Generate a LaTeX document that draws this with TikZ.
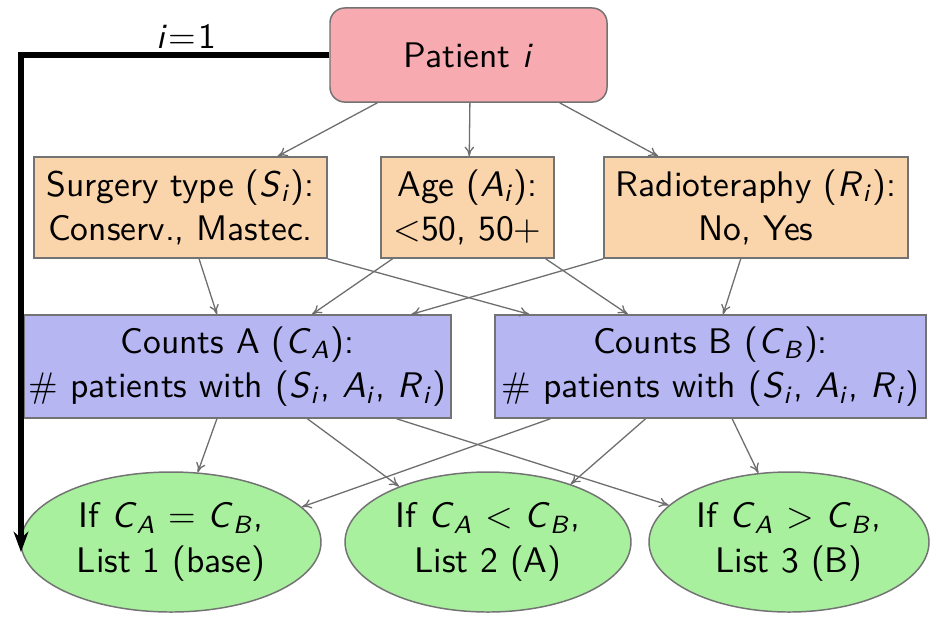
\documentclass[tikz,border=0pt]{standalone}
\usetikzlibrary{shapes.geometric,arrows.meta,calc}
\newcommand{\vv}[2]{\textsl{#1}\textsubscript{\textsl{#2}}}
\definecolor{pinkfill}{RGB}{247,170,175}
\definecolor{orangefill}{RGB}{250,212,170}
\definecolor{bluefill}{RGB}{182,182,243}
\definecolor{greenfill}{RGB}{168,240,158}
\definecolor{edgegray}{RGB}{110,110,110}
\begin{document}
\begin{tikzpicture}[x=0.27pt,y=-0.27pt,font=\sffamily\fontsize{9.6}{12}\selectfont,
  box/.style={draw=black!55,line width=0.4pt,inner sep=0pt,align=center,rectangle},
  patbox/.style={box,fill=pinkfill,rounded corners=4pt,minimum width=74.8pt,minimum height=25.4pt},
  attrbox/.style={box,fill=orangefill,minimum height=27.3pt},
  cntbox/.style={box,fill=bluefill,minimum height=27.8pt},
  listell/.style={draw=black!55,line width=0.4pt,fill=greenfill,ellipse,inner sep=0pt,align=center,minimum height=37.8pt},
  conn/.style={draw=edgegray,line width=0.35pt,-{To[length=2.6pt,width=2.6pt]}},
  loop/.style={draw=black,line width=1.5pt,-{Stealth[length=5.5pt,width=4pt]}}]
\useasboundingbox (0,0) rectangle (933,618);

\node[patbox] (pat) at (468.5,55) {Patient \textsl{i}};
\node[attrbox,minimum width=79.1pt] (surg) at (180.5,207.5) {Surgery type (\vv{S}{i}):\\Conserv., Mastec.};
\node[attrbox,minimum width=46.7pt] (age) at (467.5,207.5) {Age (\vv{A}{i}):\\<50, 50+};
\node[attrbox,minimum width=82.1pt] (rad) at (756,207.5) {Radioteraphy (\vv{R}{i}):\\No, Yes};
\node[cntbox,minimum width=115.3pt] (ca) at (237.5,366.5) {Counts A (\vv{C}{A}):\\\# patients with (\vv{S}{i}, \vv{A}{i}, \vv{R}{i})};
\node[cntbox,minimum width=116.4pt] (cb) at (710.5,366.5) {Counts B (\vv{C}{B}):\\\# patients with (\vv{S}{i}, \vv{A}{i}, \vv{R}{i})};
\node[listell,minimum width=81pt] (e1) at (171,542) {If \vv{C}{A} = \vv{C}{B},\\List 1 (base)};
\node[listell,minimum width=77.2pt] (e2) at (488,542) {If \vv{C}{A} < \vv{C}{B},\\List 2 (A)};
\node[listell,minimum width=75.6pt] (e3) at (789,542) {If \vv{C}{A} > \vv{C}{B},\\List 3 (B)};

\node (lbl) at (186,36) {\textsl{i}\kern0.5pt=\kern0.5pt1};
\coordinate (corner) at (21,55);
\coordinate (loopend) at (21,552);
\draw[loop] (pat.west) -- (corner) -- (loopend);

% patient -> attributes
\draw[conn] ($(pat.south west)!0.173!(pat.south east)$) -- ($(surg.north west)!0.83!(surg.north east)$);
\draw[conn] ($(pat.south west)!0.505!(pat.south east)$) -- ($(age.north west)!0.51!(age.north east)$);
\draw[conn] ($(pat.south west)!0.827!(pat.south east)$) -- ($(rad.north west)!0.18!(rad.north east)$);

% attributes -> counts
\draw[conn] ($(surg.south west)!0.563!(surg.south east)$) -- ($(ca.north west)!0.452!(ca.north east)$);
\draw[conn] (surg.south east) -- ($(cb.north west)!0.081!(cb.north east)$);
\draw[conn] ($(age.south west)!0.07!(age.south east)$) -- ($(ca.north west)!0.674!(ca.north east)$);
\draw[conn] ($(age.south west)!0.948!(age.south east)$) -- ($(cb.north west)!0.309!(cb.north east)$);
\draw[conn] (rad.south west) -- ($(ca.north west)!0.906!(ca.north east)$);
\draw[conn] ($(rad.south west)!0.45!(rad.south east)$) -- ($(cb.north west)!0.529!(cb.north east)$);

% counts -> lists
\draw[conn] ($(ca.south west)!0.452!(ca.south east)$) -- (e1.69.5);
\draw[conn] ($(ca.south west)!0.663!(ca.south east)$) -- (e2.148);
\draw[conn] ($(ca.south west)!0.871!(ca.south east)$) -- (e3.163.7);
\draw[conn] ($(cb.south west)!0.13!(cb.south east)$) -- (e1.15.3);
\draw[conn] ($(cb.south west)!0.35!(cb.south east)$) -- (e2.35);
\draw[conn] ($(cb.south west)!0.55!(cb.south east)$) -- (e3.114);
\end{tikzpicture}
\end{document}
